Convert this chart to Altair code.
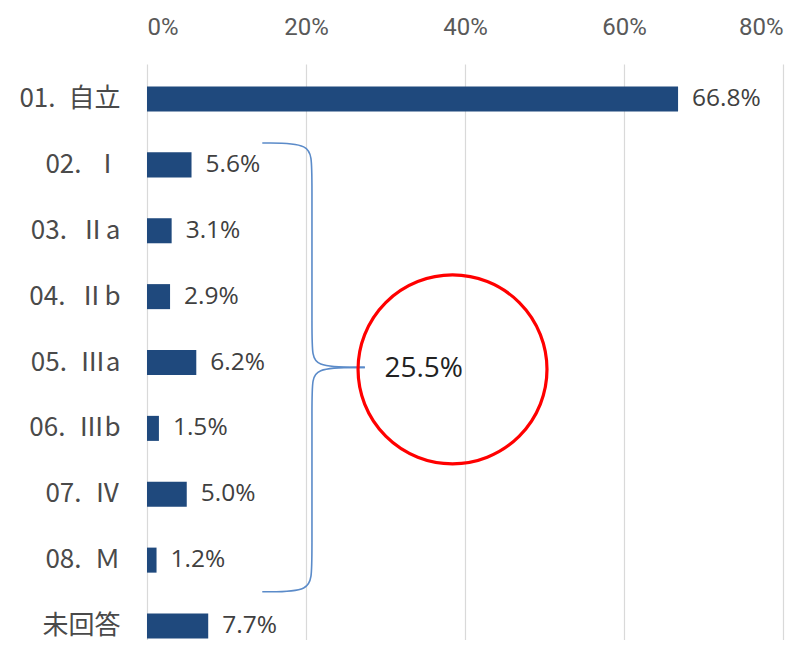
import altair as alt
import pandas as pd

# ---- data ----
labels = ["01.\u2002自立", "02.\u2002Ⅰ", "03.\u2002Ⅱa", "04.\u2002Ⅱb", "05.\u2002Ⅲa",
          "06.\u2002Ⅲb", "07.\u2002Ⅳ", "08.\u2002Ｍ", "未回答"]
values = [0.668, 0.056, 0.031, 0.029, 0.062, 0.015, 0.050, 0.012, 0.077]
x_ticks = [0, 0.2, 0.4, 0.6, 0.8]
group_first, group_last = 1, 7  # rows "02" .. "08" grouped by the brace

df = pd.DataFrame({"label": labels, "value": values})
group_total = round(sum(values[group_first:group_last + 1]), 3)

# ---- layout ----
W, H = 636, 576
N = len(labels)
P_IN, P_OUT, ALIGN = 0.62, 0.182, 0.938
step = H / (N - P_IN + 2 * P_OUT)
start = (H - step * (N - P_IN)) * ALIGN
first_center = start + step * (1 - P_IN) / 2
d0 = -first_center / step
d1 = d0 + H / step

BAR = "#1F497D"
GRID = "#D9D9D9"

x_axis = alt.Axis(orient="top", format="%", values=x_ticks, grid=True, gridColor=GRID,
                  gridWidth=1.2, domain=False, ticks=False, labelPadding=25,
                  labelFont="Roboto", labelFontSize=24, labelColor="#595959", title=None)
x_scale = alt.Scale(domain=[0, 0.8], nice=False, zero=True)

y_band = alt.Y("label:N", sort=labels,
               scale=alt.Scale(type="band", paddingInner=P_IN, paddingOuter=P_OUT,
                               align=ALIGN),
               axis=alt.Axis(title=None, domain=False, ticks=False, labelPadding=27,
                             labelFont="Noto Sans CJK JP", labelFontSize=26,
                             labelColor="#4A4A4A", labelAlign="right"))

base = alt.Chart(df)
bars = base.mark_bar(color=BAR).encode(
    y=y_band, x=alt.X("value:Q", scale=x_scale, axis=x_axis))
vals = base.mark_text(align="left", baseline="middle", dx=14, font="Open Sans",
                      fontSize=24.5, color="#404040").encode(
    y=y_band, x=alt.X("value:Q", scale=x_scale, axis=x_axis),
    text=alt.Text("value:Q", format=".1%"))
main = alt.layer(bars, vals)

# ---- brace annotation (x in value units, y in row units) ----
x_arm, x_mid, x_tip = 0.145, 0.2075, 0.274
top = group_first - 0.332
bottom = group_last + 0.48
tip = (top + bottom) / 2
seg1 = [(x_arm, top), (x_mid, top), (x_mid, top + 0.35), (x_mid, tip - 0.3),
        (x_mid, tip), (x_tip, tip)]
seg2 = [(x_tip, tip), (x_mid, tip), (x_mid, tip + 0.3), (x_mid, bottom - 0.35),
        (x_mid, bottom), (x_arm, bottom)]
rows = []
for s, seg in enumerate([seg1, seg2]):
    for i, (xx, yy) in enumerate(seg):
        rows.append({"seg": s, "ord": i, "x": xx, "row": yy})
brace_df = pd.DataFrame(rows)

y_row_scale = alt.Scale(domain=[d0, d1], reverse=True, nice=False, zero=False)

brace = alt.Chart(brace_df).mark_line(interpolate="basis", color="#5B8BC9",
                                      strokeWidth=1.6).encode(
    x=alt.X("x:Q", scale=x_scale, axis=x_axis),
    y=alt.Y("row:Q", scale=y_row_scale, axis=None),
    detail="seg:N", order="ord:Q")

ann_df = pd.DataFrame({"x": [0.3843], "tx": [0.348], "row": [tip + 0.03],
                       "total": [group_total]})
circle = alt.Chart(ann_df).mark_point(shape="circle", filled=False, size=35700,
                                      color="#FF0000", strokeWidth=3.2, opacity=1).encode(
    x=alt.X("x:Q", scale=x_scale, axis=x_axis),
    y=alt.Y("row:Q", scale=y_row_scale, axis=None))
total_text = alt.Chart(ann_df).mark_text(align="center", baseline="middle",
                                         font="Open Sans", fontSize=28,
                                         color="#222222").encode(
    x=alt.X("tx:Q", scale=x_scale, axis=x_axis),
    y=alt.Y("row:Q", scale=y_row_scale, axis=None),
    text=alt.Text("total:Q", format=".1%"))
annot = alt.layer(brace, circle, total_text)

chart = alt.layer(main, annot).resolve_scale(
    y="independent").resolve_axis(y="independent").properties(
    width=W, height=H, autosize=alt.AutoSizeParams(type="none"),
    padding={"left": 139, "top": 56, "right": 20, "bottom": 0},
    background="white"
).configure_view(stroke=None)

chart.save("out.html", embed_options={"renderer": "svg", "actions": False})
